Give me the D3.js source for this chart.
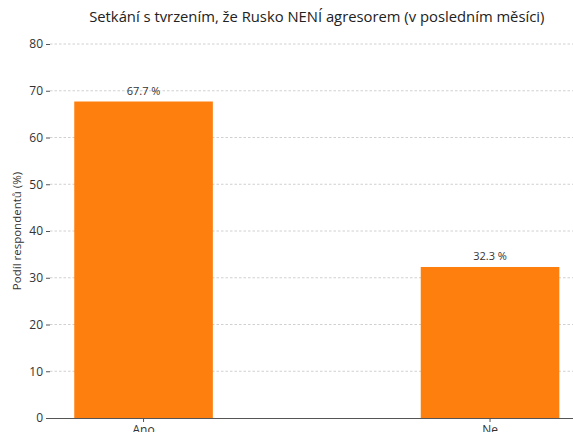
<!DOCTYPE html>
<html>
<head>
<meta charset="utf-8">
<script src="https://cdn.jsdelivr.net/npm/d3@7"></script>
<style>
  body { margin: 0; background: #fff; }
  svg { display: block; font-family: "Open Sans", Roboto, sans-serif; }
</style>
</head>
<body>
<svg id="chart" width="573" height="432"></svg>
<script>
// data
var categories = ["Ano", "Ne"];
var shares = [67.7, 32.3];
var yTicks = [0, 10, 20, 30, 40, 50, 60, 70, 80];

var svg = d3.select("#chart"),
    plotLeft = 50, plotRight = 583.6,
    plotTop = 44, plotBottom = 418;

var x = d3.scaleBand()
    .domain(categories)
    .range([plotLeft, plotRight])
    .paddingInner(0.6)
    .paddingOuter(0.07);

var y = d3.scaleLinear()
    .domain([0, 80])
    .range([plotBottom, plotTop]);

// grid lines
svg.append("g")
    .selectAll("line")
    .data(yTicks.filter(function(d) { return d > 0; }))
    .enter().append("line")
      .attr("x1", plotLeft)
      .attr("x2", plotRight)
      .attr("y1", function(d) { return y(d); })
      .attr("y2", function(d) { return y(d); })
      .attr("stroke", "#c4c4c4")
      .attr("stroke-width", 0.8)
      .attr("stroke-dasharray", "2.5,2");

// bars
svg.append("g")
    .selectAll("rect")
    .data(shares)
    .enter().append("rect")
      .attr("x", function(d, i) { return x(categories[i]); })
      .attr("width", x.bandwidth())
      .attr("y", function(d) { return y(d); })
      .attr("height", function(d) { return plotBottom - y(d); })
      .attr("fill", "#ff7f0e");

// value labels
svg.append("g")
    .selectAll("text")
    .data(shares)
    .enter().append("text")
      .attr("x", function(d, i) { return x(categories[i]) + x.bandwidth() / 2; })
      .attr("y", function(d) { return y(d) - 7; })
      .attr("text-anchor", "middle")
      .attr("font-size", 11)
      .attr("fill", "#333")
      .text(function(d) { return d.toFixed(1) + " %"; });

// y axis (no spine)
var yAxis = svg.append("g")
    .attr("transform", "translate(" + plotLeft + ",0)")
    .call(d3.axisLeft(y).tickValues(yTicks).tickSize(4).tickPadding(3));
yAxis.select(".domain").remove();
yAxis.selectAll(".tick line").attr("stroke", "#555");
yAxis.selectAll("text").attr("font-size", 12).attr("fill", "#333")
    .style("font-family", "\"Open Sans\", Roboto, sans-serif");

// x axis
var xAxis = svg.append("g")
    .attr("transform", "translate(0," + plotBottom + ")")
    .call(d3.axisBottom(x).tickSize(4).tickPadding(3).tickSizeOuter(0));
xAxis.select(".domain").attr("stroke", "#555").attr("d", "M" + plotLeft + ",0.5H" + plotRight);
xAxis.selectAll(".tick line").attr("stroke", "#555");
xAxis.selectAll("text").attr("font-size", 12).attr("fill", "#333")
    .style("font-family", "\"Open Sans\", Roboto, sans-serif");

// y label
svg.append("text")
    .attr("transform", "translate(21," + ((plotTop + plotBottom) / 2) + ") rotate(-90)")
    .attr("text-anchor", "middle")
    .attr("font-size", 11.5)
    .attr("fill", "#333")
    .text("Podíl respondentů (%)");

// title
svg.append("text")
    .attr("x", (plotLeft + plotRight) / 2)
    .attr("y", 22)
    .attr("text-anchor", "middle")
    .attr("font-size", 14.8)
    .attr("fill", "#222")
    .text("Setkání s tvrzením, že Rusko NENÍ agresorem (v posledním měsíci)");
</script>
</body>
</html>
